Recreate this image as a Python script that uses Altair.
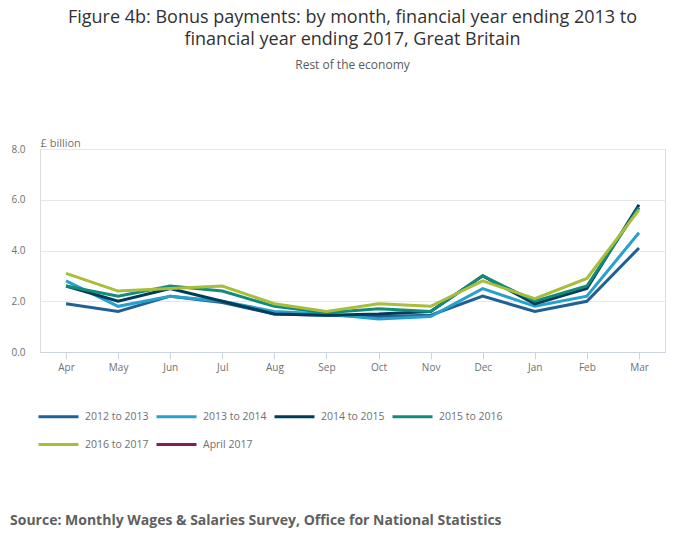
import altair as alt
import pandas as pd

months = ["Apr", "May", "Jun", "Jul", "Aug", "Sep", "Oct", "Nov", "Dec", "Jan", "Feb", "Mar"]
series_names = ["2012 to 2013", "2013 to 2014", "2014 to 2015", "2015 to 2016", "2016 to 2017", "April 2017"]
colors = ["#206095", "#27a0cc", "#003c57", "#118c7b", "#a8bd3a", "#871a5b"]

fy2013 = [1.9, 1.6, 2.2, 1.95, 1.5, 1.45, 1.4, 1.45, 2.2, 1.6, 2.0, 4.1]
fy2014 = [2.8, 1.8, 2.2, 2.0, 1.6, 1.5, 1.3, 1.4, 2.5, 1.8, 2.2, 4.7]
fy2015 = [2.6, 2.0, 2.5, 2.0, 1.5, 1.45, 1.5, 1.6, 3.0, 1.9, 2.5, 5.8]
fy2016 = [2.6, 2.2, 2.6, 2.4, 1.8, 1.55, 1.7, 1.6, 3.0, 2.0, 2.6, 5.7]
fy2017 = [3.1, 2.4, 2.5, 2.6, 1.9, 1.6, 1.9, 1.8, 2.8, 2.1, 2.9, 5.6]

y_ticks = [0, 2, 4, 6, 8]

rows = []
for name, vals in zip(series_names[:5], [fy2013, fy2014, fy2015, fy2016, fy2017]):
    for m, v in zip(months, vals):
        rows.append({"month": m, "value": v, "series": name})
df = pd.DataFrame(rows)

FONT = "Open Sans"

lines = alt.Chart(df).mark_line(strokeWidth=3).encode(
    x=alt.X("month:N", sort=months, scale=alt.Scale(type="point", padding=0.5),
            axis=alt.Axis(title=None, labelAngle=0, domainColor="#ccd4de", tickColor="#ccd4de",
                          tickSize=7, labelPadding=3, labelFontSize=10, labelColor="#707070",
                          labelFont=FONT, grid=False)),
    y=alt.Y("value:Q", scale=alt.Scale(domain=[0, 8], nice=False),
            axis=alt.Axis(title="£ billion", values=y_ticks, format=".1f", domain=False, ticks=False,
                          labelPadding=15, labelFontSize=10, labelColor="#707070", labelFont=FONT,
                          gridColor="#e6e6e6", titleAngle=0, titleX=0, titleY=-3,
                          titleAlign="left", titleBaseline="alphabetic", titleFontSize=11,
                          titleFontWeight="normal", titleColor="#707070", titleFont=FONT)),
    color=alt.Color("series:N", scale=alt.Scale(domain=series_names, range=colors),
                    legend=alt.Legend(title=None, orient="none", legendX=-3, legendY=246,
                                      direction="horizontal", columns=4, symbolType="stroke",
                                      symbolSize=1600, symbolStrokeWidth=3, labelFontSize=10.5,
                                      labelColor="#707070", labelFont=FONT, columnPadding=1,
                                      rowPadding=-5, labelOffset=5, padding=0)),
)

source = alt.Chart(pd.DataFrame({"t": ["Source: Monthly Wages & Salaries Survey, Office for National Statistics"]})).mark_text(
    align="left", baseline="middle", fontSize=14, fontWeight="bold", font=FONT, color="#5f5f5f"
).encode(x=alt.value(-30), y=alt.value(372), text="t:N")

chart = alt.layer(lines, source).properties(
    width=625, height=203,
    title=alt.TitleParams(
        text=["Figure 4b: Bonus payments: by month, financial year ending 2013 to",
              "financial year ending 2017, Great Britain"],
        subtitle="Rest of the economy",
        anchor="middle", fontSize=18, font=FONT, fontWeight="normal", color="#323132",
        lineHeight=22, subtitleFontSize=12, subtitleFont=FONT, subtitleColor="#5a5a5a",
        subtitlePadding=11, offset=66,
    ),
    autosize=alt.AutoSizeParams(type="none"),
    padding={"left": 40, "top": 149, "right": 35, "bottom": 197},
).configure_view(stroke=None).configure(background="white")

chart.save("out.html", embed_options={"renderer": "svg", "actions": False})
